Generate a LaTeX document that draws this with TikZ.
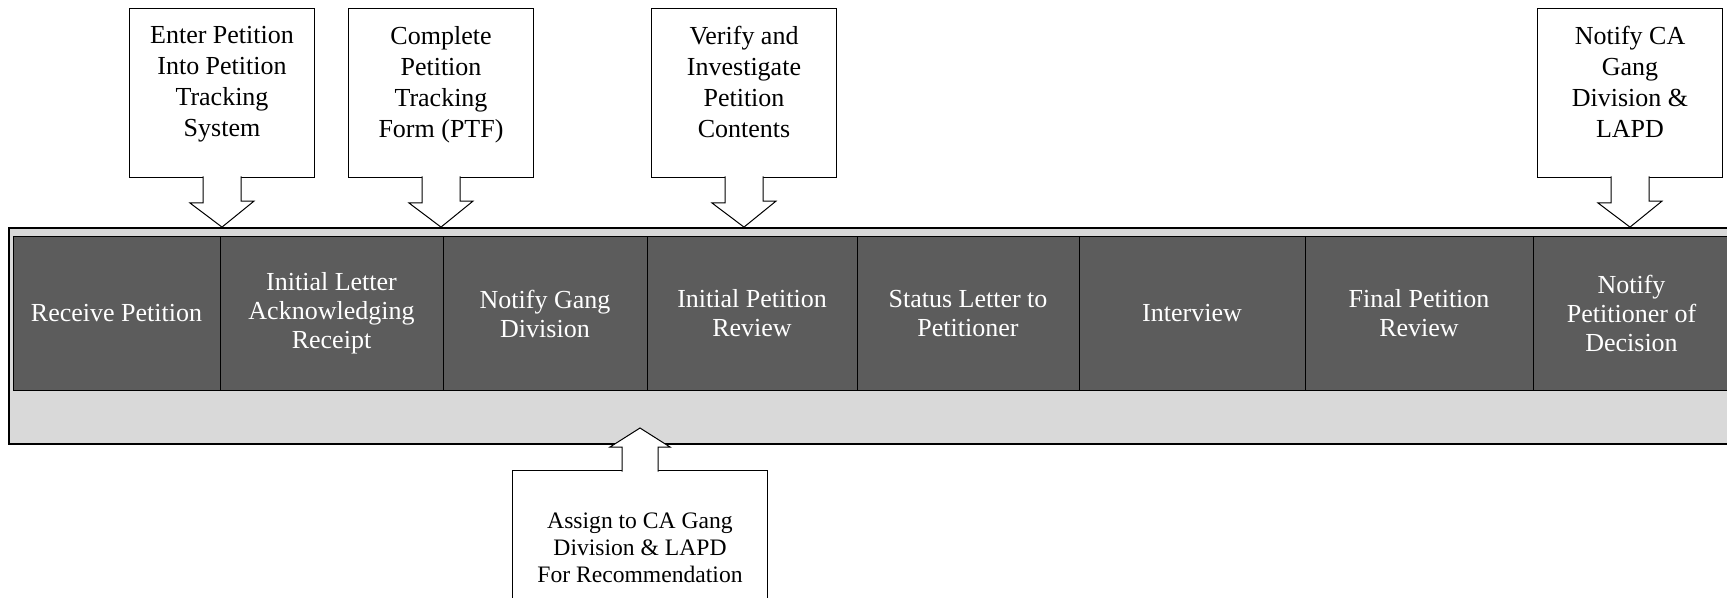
\documentclass[tikz,border=0pt]{standalone}
\usepackage{fontspec}
\setmainfont{Liberation Serif}
\usepackage{tikz}

\definecolor{celldark}{gray}{0.36}
\definecolor{framelight}{gray}{0.85}

\newcommand{\notetext}[1]{\parbox[c][84.5pt][t]{92.5pt}{\centering\vspace*{9pt}#1}}
\newcommand{\pushdown}[2]{%
  \draw[fill=white] ([xshift=-9.5pt,yshift=0.8pt]#1.south) -- ([xshift=-9.5pt]#1.south)
    -- ++(0,25) -- ++(-13,0) -- (#1.south |- #2.north) -- ++(32,-26) -- ++(-13,0)
    -- ([xshift=9.5pt]#1.south) -- ([xshift=9.5pt,yshift=0.8pt]#1.south);}
\newcommand{\pushup}[1]{%
  \draw[fill=white] ([xshift=-9pt,yshift=-0.8pt]#1.north) -- ([xshift=-9pt]#1.north)
    -- ++(0,-23) -- ++(-12,0) -- ++(30,-19) -- ++(30,19) -- ++(-12,0)
    -- ([xshift=9pt]#1.north) -- ([xshift=9pt,yshift=-0.8pt]#1.north);}

\begin{document}
\begin{tikzpicture}[x=0.5pt,y=-0.5pt,line width=0.5pt,every node/.style={align=center},
  cell/.style={draw,fill=celldark,text=white,minimum height=76.5pt,inner sep=0pt,font=\fontsize{13}{14.5}\selectfont},
  note/.style={draw,fill=white,anchor=north,minimum width=92.5pt,minimum height=84.5pt,inner sep=0pt,font=\fontsize{13}{15.5}\selectfont}]
	\useasboundingbox (0,0) rectangle (1727,598);
	\node [draw,line width=0.9pt,fill=framelight,minimum width=865.5pt,minimum height=108pt,inner sep=0pt] (track) at (874.5,336) {};
	\node [cell,minimum width=103.5pt] (receive) at (116.5,313.5) {Receive Petition};
	\node [cell,minimum width=111.5pt] (letter) at (331.5,313.5) {Initial Letter\\Acknowledging\\Receipt};
	\node [cell,minimum width=102pt] (gang) at (545,313.5) {Notify Gang\\Division};
	\node [cell,minimum width=105pt] (initial) at (752,313.5) {Initial Petition\\Review};
	\node [cell,minimum width=111pt] (status) at (968,313.5) {Status Letter to\\Petitioner};
	\node [cell,minimum width=113pt] (interview) at (1192,313.5) {Interview};
	\node [cell,minimum width=114pt] (final) at (1419,313.5) {Final Petition\\Review};
	\node [cell,minimum width=98.5pt] (decision) at (1631.5,313.5) {Notify\\Petitioner of\\Decision};
	\node [note] (enter) at (222,8) {\notetext{Enter Petition\\Into Petition\\Tracking\\System}};
	\node [note] (ptf) at (441,8) {\notetext{Complete\\Petition\\Tracking\\Form (PTF)}};
	\node [note] (verify) at (744,8) {\notetext{Verify and\\Investigate\\Petition\\Contents}};
	\node [note] (lapd) at (1630,8) {\notetext{Notify CA\\Gang\\Division \&\\LAPD}};
	\node [note,minimum width=127.5pt,minimum height=77pt,font=\fontsize{11.8}{13.5}\selectfont] (assign) at (640,470) {Assign to CA Gang\\Division \& LAPD\\For Recommendation};
	\pushdown{enter}{track}
	\pushdown{ptf}{track}
	\pushdown{verify}{track}
	\pushdown{lapd}{track}
	\pushup{assign}
\end{tikzpicture}
\end{document}
